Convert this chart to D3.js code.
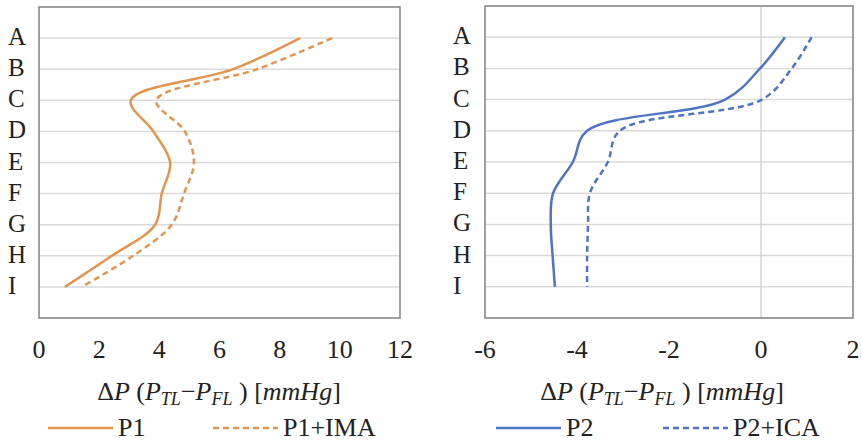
<!DOCTYPE html>
<html>
<head>
<meta charset="utf-8">
<script src="https://cdn.jsdelivr.net/npm/d3@7"></script>
<style>
  body { margin: 0; background: #fff; }
  svg { display: block; }
  svg text { font-family: "Liberation Serif", "Times New Roman", "DejaVu Serif", serif; }
</style>
</head>
<body>
<div id="chart"></div>
<script>
// values
const categories = ["A", "B", "C", "D", "E", "F", "G", "H", "I"];

const p1     = [8.68, 6.45, 3.05, 3.8, 4.36, 4.08, 3.86, 2.42, 0.86];
const p1Ima  = [9.74, 7.25, 3.9, 4.85, 5.15, 4.82, 4.41, 3.13, 1.42];
const p2     = [0.52, -0.02, -0.78, -3.78, -4.09, -4.52, -4.57, -4.53, -4.48];
const p2Ica  = [1.1, 0.67, 0.02, -3.07, -3.33, -3.72, -3.76, -3.78, -3.78];

const leftTicks  = [0, 2, 4, 6, 8, 10, 12];
const rightTicks = [-6, -4, -2, 0, 2];

const orange = "#E3954F";
const blue   = "#4E74C3";

const svg = d3.select("#chart")
    .append("svg")
    .attr("width", 862)
    .attr("height", 445);

const drawPanel = (opt) => {
    const x = d3.scaleLinear()
        .domain(opt.domain)
        .range([opt.x0, opt.x1]);

    const y = d3.scalePoint()
        .domain(categories)
        .range([opt.y0, opt.y1])
        .padding(1);

    const g = svg.append("g");

    // horizontal gridlines
    g.selectAll("line.grid")
        .data(categories)
        .join("line")
            .attr("class", "grid")
            .attr("x1", opt.x0)
            .attr("x2", opt.x1)
            .attr("y1", d => y(d))
            .attr("y2", d => y(d))
            .attr("stroke", "#d9d9d9")
            .attr("stroke-width", 1.5);

    // vertical axis line at zero
    if (opt.domain[0] < 0) {
        g.append("line")
            .attr("x1", x(0))
            .attr("x2", x(0))
            .attr("y1", opt.y0)
            .attr("y2", opt.y1)
            .attr("stroke", "#d4d4d4")
            .attr("stroke-width", 1.5);
    }

    // frame
    g.append("rect")
        .attr("x", opt.x0)
        .attr("y", opt.y0)
        .attr("width", opt.x1 - opt.x0)
        .attr("height", opt.y1 - opt.y0)
        .attr("fill", "none")
        .attr("stroke", "#808080")
        .attr("stroke-width", 1.5);

    // category labels
    g.selectAll("text.cat")
        .data(categories)
        .join("text")
            .attr("class", "cat")
            .text(d => d)
            .attr("x", opt.labelX)
            .attr("y", d => y(d) + 7)
            .style("font-size", "25px")
            .attr("fill", "#222");

    // x tick labels
    g.selectAll("text.tick")
        .data(opt.ticks)
        .join("text")
            .attr("class", "tick")
            .text(d => d)
            .attr("x", d => x(d))
            .attr("y", 358)
            .attr("text-anchor", "middle")
            .style("font-size", "26px")
            .attr("fill", "#222");

    // series
    const line = d3.line()
        .x(d => x(d.v))
        .y(d => y(d.c))
        .curve(d3.curveCatmullRom.alpha(0.5));

    opt.series.forEach(s => {
        const pts = categories.map((c, i) => ({ c: c, v: s.values[i] }));
        g.append("path")
            .datum(pts)
            .attr("d", line)
            .attr("fill", "none")
            .attr("stroke", opt.color)
            .attr("stroke-width", 2.5)
            .attr("stroke-dasharray", s.dashed ? "6,4" : null);
    });

    // axis title
    const title = g.append("text")
        .attr("x", opt.titleX)
        .attr("y", 400)
        .attr("text-anchor", "middle")
        .style("font-size", "26px")
        .attr("fill", "#222");
    title.append("tspan").text("\u0394");
    title.append("tspan").text("P").style("font-style", "italic");
    title.append("tspan").text(" (");
    title.append("tspan").text("P").style("font-style", "italic");
    title.append("tspan").text("TL").style("font-style", "italic")
        .style("font-size", "18px").attr("dy", 5);
    title.append("tspan").text("\u2212").attr("dy", -5);
    title.append("tspan").text("P").style("font-style", "italic");
    title.append("tspan").text("FL").style("font-style", "italic")
        .style("font-size", "18px").attr("dy", 5);
    title.append("tspan").text(" ) [").attr("dy", -5);
    title.append("tspan").text("mmHg").style("font-style", "italic");
    title.append("tspan").text("]");

    // legend
    opt.series.forEach((s, i) => {
        const lx = opt.legendX[i];
        g.append("line")
            .attr("x1", lx)
            .attr("x2", lx + 65)
            .attr("y1", 428)
            .attr("y2", 428)
            .attr("stroke", opt.color)
            .attr("stroke-width", 2.5)
            .attr("stroke-dasharray", s.dashed ? "6,4" : null);
        g.append("text")
            .text(s.name)
            .attr("x", lx + 70)
            .attr("y", 436)
            .style("font-size", "26px")
            .attr("fill", "#222");
    });
};

drawPanel({
    domain: [0, 12],
    x0: 39, x1: 400, y0: 7, y1: 318,
    labelX: 8,
    ticks: leftTicks,
    titleX: 219,
    color: orange,
    legendX: [48, 213],
    series: [
        { name: "P1", values: p1, dashed: false },
        { name: "P1+IMA", values: p1Ima, dashed: true }
    ]
});

drawPanel({
    domain: [-6, 2],
    x0: 485, x1: 853, y0: 6, y1: 318,
    labelX: 453,
    ticks: rightTicks,
    titleX: 662,
    color: blue,
    legendX: [496, 663],
    series: [
        { name: "P2", values: p2, dashed: false },
        { name: "P2+ICA", values: p2Ica, dashed: true }
    ]
});
</script>
</body>
</html>
